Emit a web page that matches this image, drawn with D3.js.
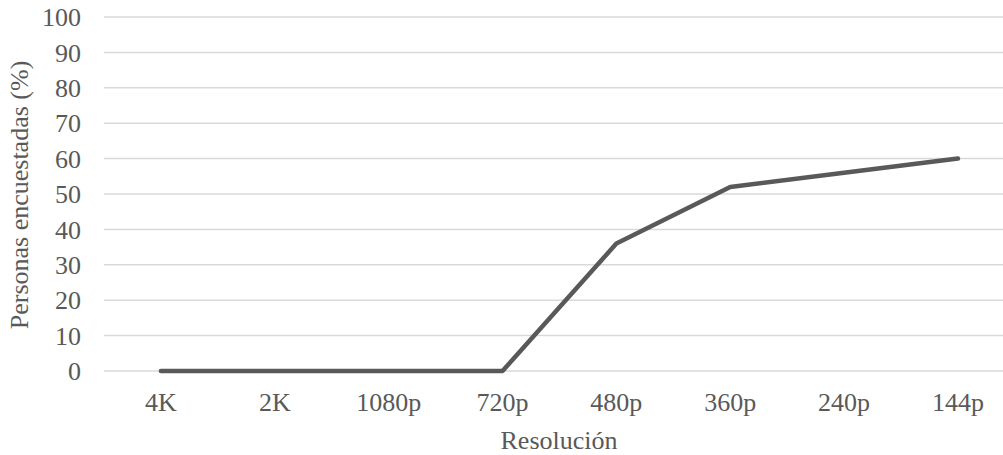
<!DOCTYPE html>
<html><head><meta charset="utf-8">
<script src="https://cdn.jsdelivr.net/npm/d3@7"></script>
<style>body{margin:0;background:#fff}svg{display:block}</style>
</head><body>
<script>
const categories = ["4K","2K","1080p","720p","480p","360p","240p","144p"];
const values = [0,0,0,0,36,52,56,60];
const yTicks = [0,10,20,30,40,50,60,70,80,90,100];
const xTitle = "Resolución";
const yTitle = "Personas encuestadas (%)";

const W = 1003, H = 455;
const svg = d3.select("body").append("svg").attr("width", W).attr("height", H);
const plotLeft = 104, bandW = 113.86, plotTop = 17, plotBottom = 371;
const x = d3.scaleBand().domain(categories).range([plotLeft, plotLeft + bandW*categories.length]);
const y = d3.scaleLinear().domain([0,100]).range([plotBottom, plotTop]);
const col = "#595959";
const fs = 26;
const ff = '"Liberation Serif"';

svg.append("g").selectAll("line").data(yTicks).join("line")
  .attr("x1", plotLeft).attr("x2", x.range()[1])
  .attr("y1", d=>y(d)).attr("y2", d=>y(d))
  .attr("stroke", "#d9d9d9").attr("stroke-width", 1.5);

svg.append("g").selectAll("text").data(yTicks).join("text")
  .attr("x", 81).attr("y", d=>y(d)).attr("dy","0.35em")
  .attr("text-anchor","end").style("font-family",ff).style("font-size",fs+"px").attr("fill",col)
  .text(d=>d);

svg.append("g").selectAll("text").data(categories).join("text")
  .attr("x", d=>x(d)+x.bandwidth()/2).attr("y", 402).attr("dy","0.35em")
  .attr("text-anchor","middle").style("font-family",ff).style("font-size",fs+"px").attr("fill",col)
  .text(d=>d);

const line = d3.line().x((d,i)=>x(categories[i])+x.bandwidth()/2).y(d=>y(d));
svg.append("path").datum(values).attr("d", line)
  .attr("fill","none").attr("stroke",col).attr("stroke-width",4.5)
  .attr("stroke-linecap","round").attr("stroke-linejoin","round");

svg.append("text").attr("x", 559).attr("y", 440).attr("dy","0.35em")
  .attr("text-anchor","middle").style("font-family",ff).style("font-size",fs+"px").attr("fill",col)
  .text(xTitle);

svg.append("text").attr("transform","translate(19,195) rotate(-90)").attr("dy","0.35em")
  .attr("text-anchor","middle").style("font-family",ff).style("font-size",fs+"px").attr("fill",col)
  .text(yTitle);
</script>
</body></html>
